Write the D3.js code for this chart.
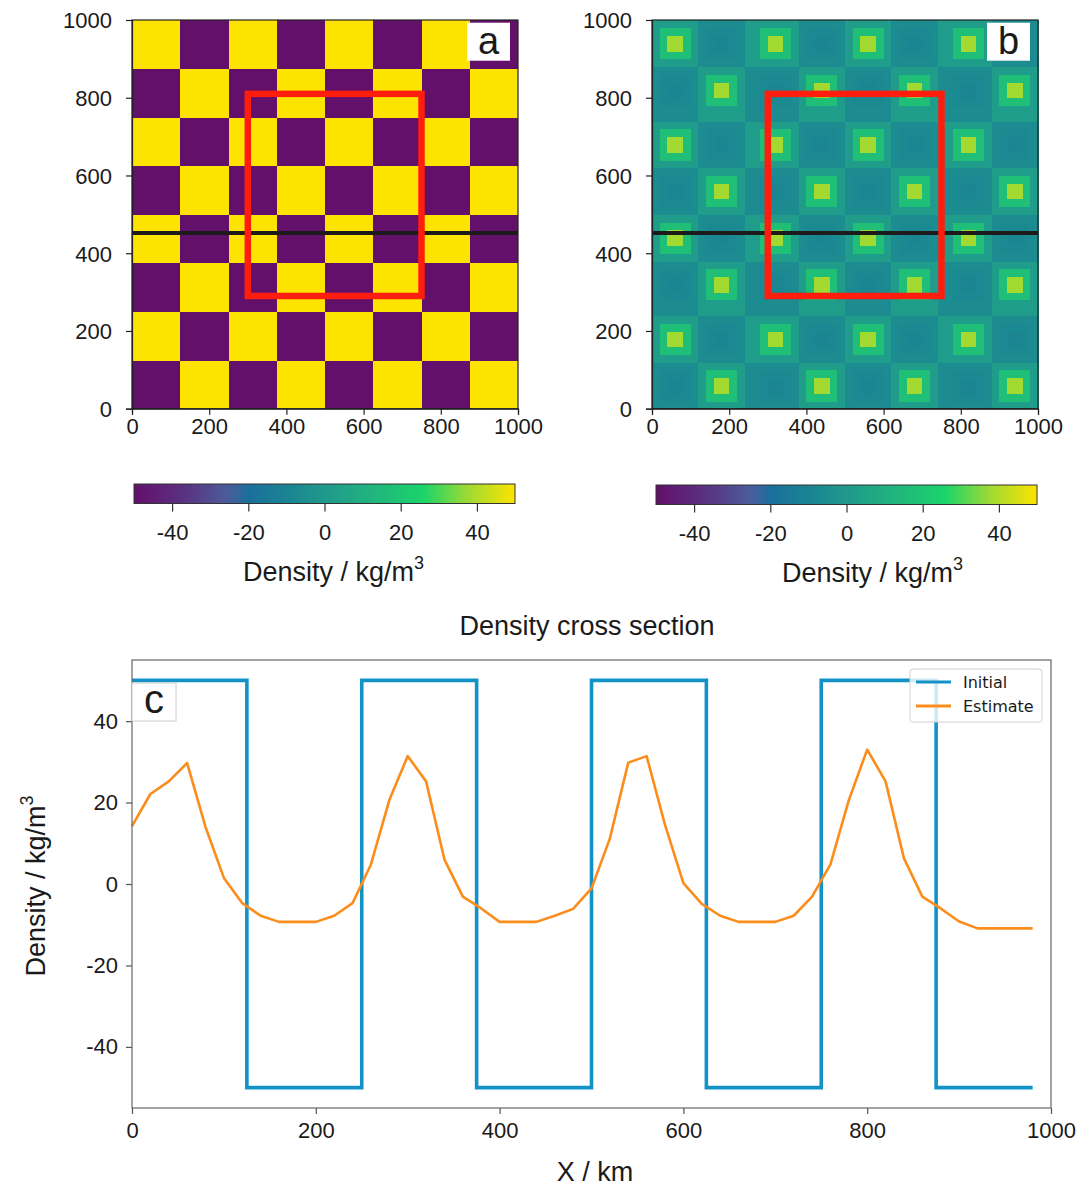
<!DOCTYPE html>
<html>
<head>
<meta charset="utf-8">
<script src="https://cdn.jsdelivr.net/npm/d3@7"></script>
<style>
	body { margin: 0; background: #fff; }
	text { font-family: "Liberation Sans", Arial, sans-serif; fill: #1a1a1a; }
	.legend text { font-family: "DejaVu Sans", sans-serif; }
</style>
</head>
<body>
<div id="chart"></div>
<script>
// data ////////////////////////////////////////////////////////////////////////
var blockEdges = [0, 125, 250, 375, 500, 625, 750, 875, 1000];
// initial density model (kg/m3), rows from y = 0 upward
var initialGrid = [
	[-50,  50, -50,  50, -50,  50, -50,  50],
	[ 50, -50,  50, -50,  50, -50,  50, -50],
	[-50,  50, -50,  50, -50,  50, -50,  50],
	[ 50, -50,  50, -50,  50, -50,  50, -50],
	[-50,  50, -50,  50, -50,  50, -50,  50],
	[ 50, -50,  50, -50,  50, -50,  50, -50],
	[-50,  50, -50,  50, -50,  50, -50,  50],
	[ 50, -50,  50, -50,  50, -50,  50, -50]
];
// estimated density, by 20 km ring from the centre of a block
var estimateCell = 20;
var highBlockRings = [38, 17, 2];
var lowBlockRings = [-9, -7.5, -6];
var crossSectionY = 452;
var focusBox = [300, 750, 290, 810];   // x0, x1, y0, y1 (km)
var mapTicks = [0, 200, 400, 600, 800, 1000];
var densityTicks = [-40, -20, 0, 20, 40];

// cross section at y = crossSectionY
var initialStepX = [0, 125, 250, 375, 500, 625, 750, 875, 980];
var initialStepV = [50, -50, 50, -50, 50, -50, 50, -50, -50];
var estimateProfile = [
	14.2, 22.1, 25.2, 29.7, 14.0, 1.5, -4.7, -7.8, -9.3, -9.3,
	-9.3, -7.8, -4.7, 4.8, 20.6, 31.4, 25.2, 6.0, -3.1, -6.0,
	-9.3, -9.3, -9.3, -7.8, -6.1, -1.1, 11.2, 29.8, 31.4, 14.5,
	0.2, -4.9, -7.8, -9.3, -9.3, -9.3, -7.8, -3.1, 4.8, 20.6,
	33.0, 25.2, 6.3, -3.1, -6.0, -9.2, -10.9, -10.9, -10.9, -10.9
];
var sectionXTicks = [0, 200, 400, 600, 800, 1000];
var sectionYTicks = [-40, -20, 0, 20, 40];
var seriesNames = ['Initial', 'Estimate'];

// styles //////////////////////////////////////////////////////////////////////
var colInitial = '#1392c8',
	colEstimate = '#fb8d1d',
	colBox = '#ff1e0e';
var cmap = d3.scaleLinear()
	.domain([-50, -37.5, -25, -20, -10, 0, 12, 26, 38, 50])
	.range(['#62106a', '#5b2f80', '#4b5e9c', '#1a6f9c', '#1a8492', '#1f998c', '#21b37f', '#1bd46a', '#a2da32', '#fde300']);

var svg = d3.select('#chart').append('svg')
	.attr('width', 1089)
	.attr('height', 1189);
svg.append('rect').attr('width', 1089).attr('height', 1189).attr('fill', '#fff');

function fmt(d) { return String(d); }

// map panels //////////////////////////////////////////////////////////////////
function mapPanel(left, label, drawCells) {
	var x = d3.scaleLinear().domain([0, 1000]).range([left, left + 386]);
	var y = d3.scaleLinear().domain([0, 1000]).range([408.7, 20]);
	var g = svg.append('g');

	drawCells(g.append('g').attr('shape-rendering', 'crispEdges'), x, y);

	g.append('line')
		.attr('x1', x(0)).attr('x2', x(1000))
		.attr('y1', y(crossSectionY)).attr('y2', y(crossSectionY))
		.attr('stroke', '#1c1a1a').attr('stroke-width', 4);

	g.append('rect')
		.attr('x', x(focusBox[0])).attr('y', y(focusBox[3]))
		.attr('width', x(focusBox[1]) - x(focusBox[0]))
		.attr('height', y(focusBox[2]) - y(focusBox[3]))
		.attr('fill', 'none').attr('stroke', colBox).attr('stroke-width', 6.5);

	g.append('rect')
		.attr('x', x(0)).attr('y', y(1000))
		.attr('width', x(1000) - x(0)).attr('height', y(0) - y(1000))
		.attr('fill', 'none').attr('stroke', '#222').attr('stroke-width', 1.2);

	var ax = g.append('g').attr('transform', 'translate(0,' + y(0) + ')')
		.call(d3.axisBottom(x).tickValues(mapTicks).tickSize(6).tickPadding(4).tickFormat(fmt));
	var ay = g.append('g').attr('transform', 'translate(' + x(0) + ',0)')
		.call(d3.axisLeft(y).tickValues(mapTicks).tickSize(6).tickPadding(14).tickFormat(fmt));
	[ax, ay].forEach(function(a) {
		a.select('.domain').attr('stroke', '#222').attr('stroke-width', 1.2);
		a.selectAll('.tick line').attr('stroke', '#222').attr('stroke-width', 1.2);
		a.selectAll('text').attr('font-size', 22).attr('fill', '#1a1a1a')
			.attr('font-family', '"Liberation Sans", Arial, sans-serif');
	});
	ay.selectAll('text').attr('dy', '0.36em');

	g.append('rect')
		.attr('x', x(1000) - 51).attr('y', y(1000) + 2.7)
		.attr('width', 43).attr('height', 38).attr('fill', '#fff');
	g.append('text')
		.attr('x', x(1000) - 29.5).attr('y', y(1000) + 34)
		.attr('text-anchor', 'middle').attr('font-size', 38)
		.text(label);
}

mapPanel(132, 'a', function(g, x, y) {
	var cells = [];
	initialGrid.forEach(function(row, j) {
		row.forEach(function(v, i) { cells.push({i: i, j: j, v: v}); });
	});
	g.selectAll('.block').data(cells).enter().append('rect')
		.attr('class', 'block')
		.attr('x', function(d) { return x(blockEdges[d.i]); })
		.attr('y', function(d) { return y(blockEdges[d.j + 1]); })
		.attr('width', function(d) { return x(blockEdges[d.i + 1]) - x(blockEdges[d.i]) + 0.4; })
		.attr('height', function(d) { return y(blockEdges[d.j]) - y(blockEdges[d.j + 1]) + 0.4; })
		.attr('fill', function(d) { return cmap(d.v); });
});

mapPanel(652, 'b', function(g, x, y) {
	var n = 1000 / estimateCell, cells = [];
	for (var cj = 0; cj < n; cj++) {
		for (var ci = 0; ci < n; ci++) {
			var cx = (ci + 0.5) * estimateCell, cy = (cj + 0.5) * estimateCell;
			var bi = Math.min(7, Math.floor(cx / 125)), bj = Math.min(7, Math.floor(cy / 125));
			var dist = Math.max(Math.abs(cx - (bi * 125 + 62.5)), Math.abs(cy - (bj * 125 + 62.5)));
			var ring = Math.min(2, Math.floor(dist / estimateCell));
			var v = initialGrid[bj][bi] > 0 ? highBlockRings[ring] : lowBlockRings[ring];
			cells.push({x: ci * estimateCell, y: cj * estimateCell, v: v});
		}
	}
	g.selectAll('.cell').data(cells).enter().append('rect')
		.attr('class', 'cell')
		.attr('x', function(d) { return x(d.x); })
		.attr('y', function(d) { return y(d.y + estimateCell); })
		.attr('width', x(estimateCell) - x(0) + 0.6)
		.attr('height', y(0) - y(estimateCell) + 0.6)
		.attr('fill', function(d) { return cmap(d.v); });
});

// colour bars /////////////////////////////////////////////////////////////////
var grad = svg.append('defs').append('linearGradient').attr('id', 'cbar');
grad.selectAll('stop').data(d3.range(0, 1.0001, 0.02)).enter().append('stop')
	.attr('offset', function(t) { return t; })
	.attr('stop-color', function(t) { return cmap(-50 + 100 * t); });

function colorBar(left, top, labelX) {
	var x = d3.scaleLinear().domain([-50, 50]).range([left, left + 381]);
	var g = svg.append('g');
	g.append('rect')
		.attr('x', x(-50)).attr('y', top).attr('width', x(50) - x(-50)).attr('height', 19.5)
		.attr('fill', 'url(#cbar)').attr('stroke', '#333').attr('stroke-width', 1);
	var ax = g.append('g').attr('transform', 'translate(0,' + (top + 19.5) + ')')
		.call(d3.axisBottom(x).tickValues(densityTicks).tickSize(8).tickPadding(13).tickFormat(fmt));
	ax.select('.domain').remove();
	ax.selectAll('.tick line').attr('stroke', '#333').attr('stroke-width', 1.2);
	ax.selectAll('text').attr('font-size', 22).attr('fill', '#1a1a1a')
		.attr('font-family', '"Liberation Sans", Arial, sans-serif');
	var t = g.append('text').attr('x', labelX).attr('y', top + 97).attr('font-size', 27);
	t.append('tspan').text('Density / kg/m');
	t.append('tspan').attr('font-size', 18).attr('dy', -12).text('3');
}
colorBar(134, 484, 243);
colorBar(656, 485, 782);

// cross section ///////////////////////////////////////////////////////////////
var sx = d3.scaleLinear().domain([0, 1000]).range([132, 1051]);
var sy = d3.scaleLinear().domain([-55, 55]).range([1108, 660]);
var sec = svg.append('g');

sec.append('text')
	.attr('x', 587).attr('y', 635).attr('text-anchor', 'middle').attr('font-size', 27)
	.text('Density cross section');

var initialPts = initialStepX.map(function(d, i) { return [d, initialStepV[i]]; });
var estimatePts = estimateProfile.map(function(v, i) { return [i * estimateCell, v]; });

sec.append('path')
	.datum(initialPts)
	.attr('d', d3.line().curve(d3.curveStepAfter)
		.x(function(d) { return sx(d[0]); })
		.y(function(d) { return sy(d[1]); }))
	.attr('fill', 'none').attr('stroke', colInitial).attr('stroke-width', 3.6);

sec.append('path')
	.datum(estimatePts)
	.attr('d', d3.line()
		.x(function(d) { return sx(d[0]); })
		.y(function(d) { return sy(d[1]); }))
	.attr('fill', 'none').attr('stroke', colEstimate).attr('stroke-width', 2.6)
	.attr('stroke-linejoin', 'round');

sec.append('rect')
	.attr('x', sx(0)).attr('y', sy(55)).attr('width', sx(1000) - sx(0)).attr('height', sy(-55) - sy(55))
	.attr('fill', 'none').attr('stroke', '#666').attr('stroke-width', 1.2);

var sax = sec.append('g').attr('transform', 'translate(0,' + sy(-55) + ')')
	.call(d3.axisBottom(sx).tickValues(sectionXTicks).tickSize(6).tickPadding(8).tickFormat(fmt));
var say = sec.append('g').attr('transform', 'translate(' + sx(0) + ',0)')
	.call(d3.axisLeft(sy).tickValues(sectionYTicks).tickSize(6).tickPadding(8).tickFormat(fmt));
[sax, say].forEach(function(a) {
	a.select('.domain').remove();
	a.selectAll('.tick line').attr('stroke', '#555').attr('stroke-width', 1.2);
	a.selectAll('text').attr('font-size', 22).attr('fill', '#1a1a1a')
		.attr('font-family', '"Liberation Sans", Arial, sans-serif');
});

sec.append('text')
	.attr('x', 595).attr('y', 1181).attr('text-anchor', 'middle').attr('font-size', 27)
	.text('X / km');
var yl = sec.append('text')
	.attr('transform', 'translate(45,886) rotate(-90)')
	.attr('text-anchor', 'middle').attr('font-size', 27);
yl.append('tspan').text('Density / kg/m');
yl.append('tspan').attr('font-size', 18).attr('dy', -12).text('3');

// panel tag
sec.append('rect').attr('x', sx(0)).attr('y', 683).attr('width', 44).attr('height', 38)
	.attr('fill', '#fff').attr('stroke', '#ccc').attr('stroke-width', 1);
sec.append('text').attr('x', sx(0) + 22).attr('y', 713).attr('text-anchor', 'middle')
	.attr('font-size', 40).text('c');

// legend
var leg = sec.append('g').attr('class', 'legend');
leg.append('rect').attr('x', 910).attr('y', 669).attr('width', 132).attr('height', 53).attr('rx', 3)
	.attr('fill', '#fff').attr('fill-opacity', 0.8).attr('stroke', '#d0d0d0');
var items = leg.selectAll('.item').data(seriesNames).enter().append('g')
	.attr('class', 'item')
	.attr('transform', function(d, i) { return 'translate(916,' + (682 + i * 24) + ')'; });
items.append('line').attr('x1', 0).attr('x2', 35)
	.attr('stroke', function(d, i) { return i ? colEstimate : colInitial; })
	.attr('stroke-width', 3);
items.append('text').attr('x', 47).attr('y', 6).attr('font-size', 16).text(function(d) { return d; });
</script>
</body>
</html>
